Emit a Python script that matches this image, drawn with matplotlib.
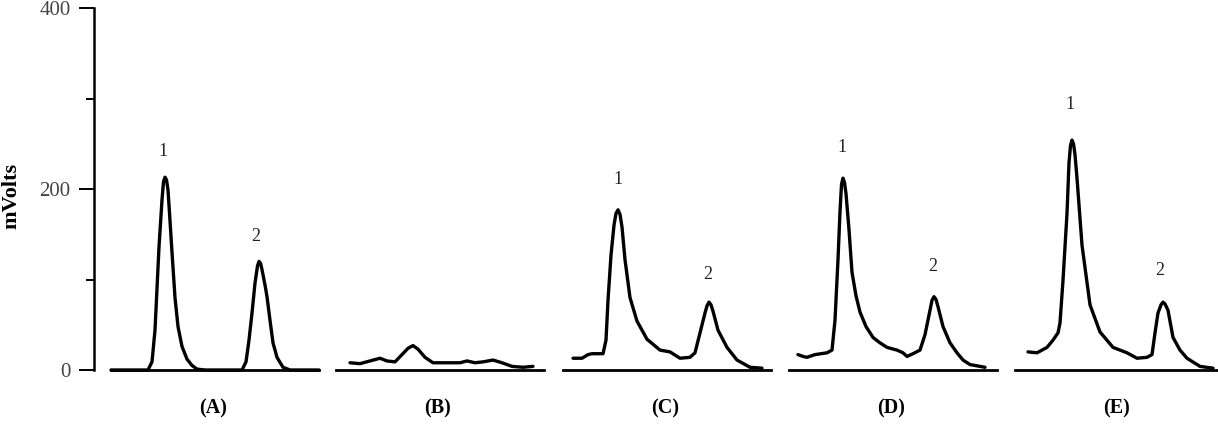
import matplotlib
matplotlib.use("Agg")
import matplotlib.pyplot as plt

plt.rcParams['font.family'] = ['Liberation Serif', 'DejaVu Serif']

# retention (a.u., offset within each panel) and detector response (mV)
a_t = [0, 37, 41, 44, 48, 51, 52.5, 54, 55.5, 57, 59, 61, 64, 67, 71, 76, 81, 86, 94,
       131, 135, 138, 141, 144, 146.5, 148, 149.5, 151, 154, 156, 159, 162, 166, 172, 179, 208]
a_mv = [0, 0, 9, 44, 136, 188, 208, 213, 210, 199, 165, 130, 80, 48, 26, 12, 5, 1, 0,
        0, 9, 33, 63, 96, 115, 120, 118, 111, 94, 81, 55, 30, 14, 3, 0, 0]

b_t = [14, 24, 34, 44, 51, 59, 66, 72, 77, 82, 89, 97, 111, 124, 131, 139,
       147, 157, 166, 176, 187, 197]
b_mv = [8, 7, 10, 13, 10, 9, 17, 24, 27, 23, 14, 8, 8, 8, 10, 8, 9, 11, 8, 4, 3, 4]

c_t = [10, 19, 25, 29, 40, 43, 45, 48, 51, 53, 55, 57, 59, 62, 67, 74, 84, 97, 107,
       117, 127, 132, 137, 142, 144, 146, 148, 150, 155, 164, 174, 187, 199]
c_mv = [13, 13, 17, 18, 18, 33, 77, 127, 160, 173, 177, 172, 158, 122, 80, 54, 34, 22, 20,
        13, 14, 19, 41, 63, 71, 75, 72, 65, 44, 25, 11, 3, 2]

d_t = [9, 14, 18, 26, 38, 43, 46, 49, 51, 52.5, 54, 55.5, 57, 60, 63, 67, 71, 77, 84, 91,
       98, 108, 114, 118, 124, 131, 136, 141, 143, 145, 147, 149, 154, 161, 168, 174, 181, 196]
d_mv = [17, 15, 14, 17, 19, 22, 55, 122, 175, 205, 212, 207, 195, 155, 108, 82, 64, 48, 36, 30,
        25, 22, 19, 15, 18, 22, 39, 66, 77, 81, 78, 70, 48, 30, 19, 11, 6, 3]

e_t = [13, 22, 32, 38, 43, 45, 48, 52, 54, 55.5, 57, 58.5, 60, 62, 67, 75, 85, 98, 112, 122,
       132, 137, 140, 143, 146, 148, 150, 153, 158, 165, 172, 185, 198]
e_mv = [20, 19, 25, 33, 41, 52, 99, 173, 229, 248, 254, 250, 238, 212, 138, 72, 42, 25, 19, 13,
        14, 17, 41, 63, 72, 75, 73, 66, 36, 22, 13, 4, 2]

panel_names = ['(A)', '(B)', '(C)', '(D)', '(E)']
traces = [(a_t, a_mv), (b_t, b_mv), (c_t, c_mv), (d_t, d_mv), (e_t, e_mv)]
# peak number labels: (x, y) per panel
peak_labels = [
    [(52, 241), (145, 148)],
    [],
    [(55, 210), (145, 105)],
    [(53, 246), (144, 114)],
    [(55, 293), (145, 110)],
]
panel_left_px = [111, 336, 563, 789, 1015]
panel_w_px = 208

W, H = 1218, 424
fig = plt.figure(figsize=(W / 100, H / 100), dpi=100)
bottom = (H - 370) / H
height = 362 / H

# y axis
ax0 = fig.add_axes([94 / W, bottom, 1 / W, height])
ax0.set_facecolor('none')
ax0.set_ylim(0, 400)
ax0.set_xticks([])
for s in ['top', 'right', 'bottom']:
    ax0.spines[s].set_visible(False)
ax0.spines['left'].set_linewidth(1.8)
ax0.set_yticks([0, 200, 400])
ax0.set_yticks([100, 300], minor=True)
ax0.tick_params(axis='y', which='major', length=11, width=1.4, labelsize=15,
                labelcolor='#444444', pad=6)
ax0.tick_params(axis='y', which='minor', length=6, width=1.4)

fig.text(1 / W, (H - 196) / H, 'mVolts', rotation=90, ha='left', va='center',
         fontsize=16, fontweight='bold')

for i, name in enumerate(panel_names):
    ax = fig.add_axes([panel_left_px[i] / W, bottom, panel_w_px / W, height])
    ax.set_facecolor('none')
    ax.set_xlim(0, panel_w_px)
    ax.set_ylim(0, 400)
    ax.axis('off')
    ax.axhline(0, color='black', lw=2.0, clip_on=False)
    t, mv = traces[i]
    ax.plot(t, mv, color='black', lw=2.4, solid_joinstyle='round',
            solid_capstyle='round', clip_on=False)
    for k, (x, y) in enumerate(peak_labels[i]):
        ax.text(x, y, str(k + 1), ha='center', va='center', fontsize=13,
                color='#222222')
    ax.text(0.49, -0.105, name, transform=ax.transAxes, ha='center', va='center',
            fontsize=14.5, fontweight='bold')

fig.savefig('out.png', dpi=100)
